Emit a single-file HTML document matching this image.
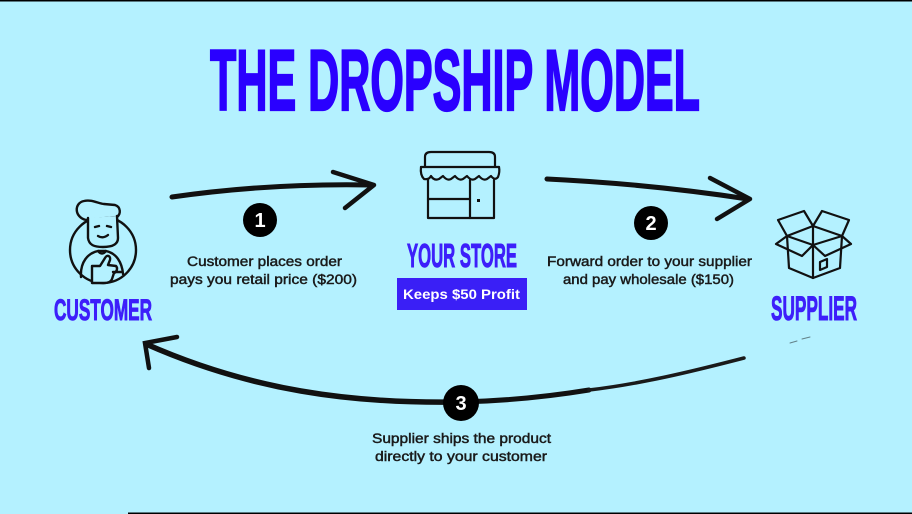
<!DOCTYPE html>
<html><head><meta charset="utf-8"><style>
html,body{margin:0;padding:0;background:#b4f1ff;}
svg{display:block;}
</style></head><body>
<svg width="912" height="514" viewBox="0 0 912 514" xmlns="http://www.w3.org/2000/svg">
<rect x="0" y="0" width="912" height="514" fill="#b4f1ff"/>
<rect x="0" y="0" width="912" height="1.5" fill="#000"/>
<rect x="128" y="512.5" width="784" height="1.5" fill="#000"/>

<!-- Title -->
<text x="210" y="110" font-family="'Liberation Sans Narrow','Liberation Sans',sans-serif" font-weight="bold" font-size="86" fill="#2a00ff" stroke="#2a00ff" stroke-width="2.2" textLength="490" lengthAdjust="spacingAndGlyphs">THE DROPSHIP MODEL</text>

<!-- Labels -->
<g font-family="'Liberation Sans Narrow','Liberation Sans',sans-serif" font-weight="bold" fill="#3d1ffa" stroke="#3d1ffa" stroke-width="1">
<text x="54" y="320" font-size="30" textLength="98" lengthAdjust="spacingAndGlyphs">CUSTOMER</text>
<text x="407" y="267" font-size="33" textLength="110" lengthAdjust="spacingAndGlyphs">YOUR STORE</text>
<text x="771" y="320" font-size="34" textLength="86" lengthAdjust="spacingAndGlyphs">SUPPLIER</text>
</g>

<!-- Keeps box -->
<rect x="397" y="278" width="130" height="32" fill="#3a1ff6"/>
<text x="403" y="299" font-family="'Liberation Sans',sans-serif" font-weight="bold" font-size="13.5" fill="#fff" textLength="117" lengthAdjust="spacingAndGlyphs">Keeps $50 Profit</text>

<!-- Body text -->
<g font-family="'Liberation Sans',sans-serif" font-size="13.5" fill="#1a1a1a" stroke="#1a1a1a" stroke-width="0.45">
<text x="187" y="266" textLength="155" lengthAdjust="spacingAndGlyphs">Customer places order</text>
<text x="170" y="284" textLength="187" lengthAdjust="spacingAndGlyphs">pays you retail price ($200)</text>
<text x="547" y="266" textLength="205" lengthAdjust="spacingAndGlyphs">Forward order to your supplier</text>
<text x="563" y="284" textLength="171" lengthAdjust="spacingAndGlyphs">and pay wholesale ($150)</text>
<text x="372" y="443" textLength="179" lengthAdjust="spacingAndGlyphs">Supplier ships the product</text>
<text x="375" y="461" textLength="172" lengthAdjust="spacingAndGlyphs">directly to your customer</text>
</g>

<!-- Arrows -->
<g fill="none" stroke="#111" stroke-linecap="round" stroke-linejoin="round">
<path d="M172,197 Q270,183 372,185" stroke-width="5"/>
<path d="M333,172 L374,185 L345,208" stroke-width="4.5"/>
<path d="M547,179 Q650,184 748,199" stroke-width="5"/>
<path d="M710,178 L750,199 L717,219" stroke-width="4.5"/>
<path d="M461,402 C350,404 250,390 146,344" stroke-width="5.5"/>
<path d="M589,390 C540,398 500,401 461,402" stroke-width="5"/>
<path d="M744,358 C690,372 640,384 589,390" stroke-width="3.5" stroke="#1a1a1a"/>
<path d="M177,337 L145,343 L149,368" stroke-width="4.5" stroke-linejoin="miter"/>
<path d="M790,343 L797,341 M802,339 L810,337" stroke-width="1" opacity="0.5"/>
</g>

<!-- Number circles -->
<circle cx="260" cy="220" r="17" fill="#000"/>
<circle cx="651" cy="223" r="17" fill="#000"/>
<circle cx="461" cy="403" r="18" fill="#000"/>
<g font-family="'Liberation Sans Narrow','Liberation Sans',sans-serif" font-weight="bold" font-size="20" fill="#fff" text-anchor="middle">
<text x="260" y="227">1</text>
<text x="651" y="230">2</text>
<text x="461" y="410">3</text>
</g>

<!-- Customer icon -->
<g fill="none" stroke="#111" stroke-width="2.4" stroke-linecap="round" stroke-linejoin="round">
<circle cx="103" cy="250" r="33"/>
<path d="M86,220 C74,217 74,203 84,201 C92,199 99,204 104,204 L115,205 C121,207 121,214 117,217 Z" fill="#b4f1ff"/>
<path d="M88,218 L88,238 C89,245 94,247 103,247 C113,247 118,244 118,238 L117,216" fill="#b4f1ff"/>
<path d="M95,227 L99,226 M107,226 L111,227"/>
<path d="M98,236 Q103,239 108,235"/>
<path d="M81,277 C80,262 88,253 98,251 L106,251 C116,253 122,262 123,274"/>
<path d="M98,251 Q102,256 106,251"/>
<path d="M92,283 L92,266 L100,266 L105,258 C107,254 111,256 110,260 L108,265 L116,266 C118,268 117,272 114,273 L112,279 C111,282 108,283 104,283 Z" fill="#b4f1ff"/>
<path d="M113,272 L121,272"/>
</g>

<!-- Store icon -->
<g fill="none" stroke="#111" stroke-width="2.2" stroke-linecap="round" stroke-linejoin="round">
<path d="M425,166 L425,157 Q425,152 431,152 L489,152 Q495,152 495,157 L495,166"/>
<path d="M421,167 L499,167"/>
<path d="M421,167 Q420,175 424,179 Q429,180 431,176 Q434,181 439,179 Q443,176 443,176 Q447,181 451,179 Q455,176 455,176 Q459,181 463,179 Q467,176 467,176 Q471,181 475,179 Q479,176 479,176 Q483,181 487,179 Q491,176 491,176 Q495,181 498,177 Q500,172 499,167"/>
<path d="M428,180 L428,218 L494,218 L494,180"/>
<path d="M470,180 L470,218"/>
<path d="M428,199 L470,199"/>
</g>
<rect x="477" y="199" width="3" height="3" fill="#111"/>

<!-- Box icon -->
<g fill="none" stroke="#111" stroke-width="2.2" stroke-linecap="round" stroke-linejoin="round">
<path d="M787,236 L789,268 L813,278 L840,268 L842,236"/>
<path d="M813,226 L813,278"/>
<path d="M787,236 L813,245 L842,236"/>
<path d="M787,236 L776,244 L802,256 L813,245 L825,256 L851,244 L842,236"/>
<path d="M787,236 L778,220 L804,211 L813,226 L822,211 L849,220 L842,236"/>
<path d="M787,236 L813,226 L842,236"/>
<path d="M820,262 L827,259 L827,267 L820,270 Z"/>
</g>
</svg>
</body></html>
